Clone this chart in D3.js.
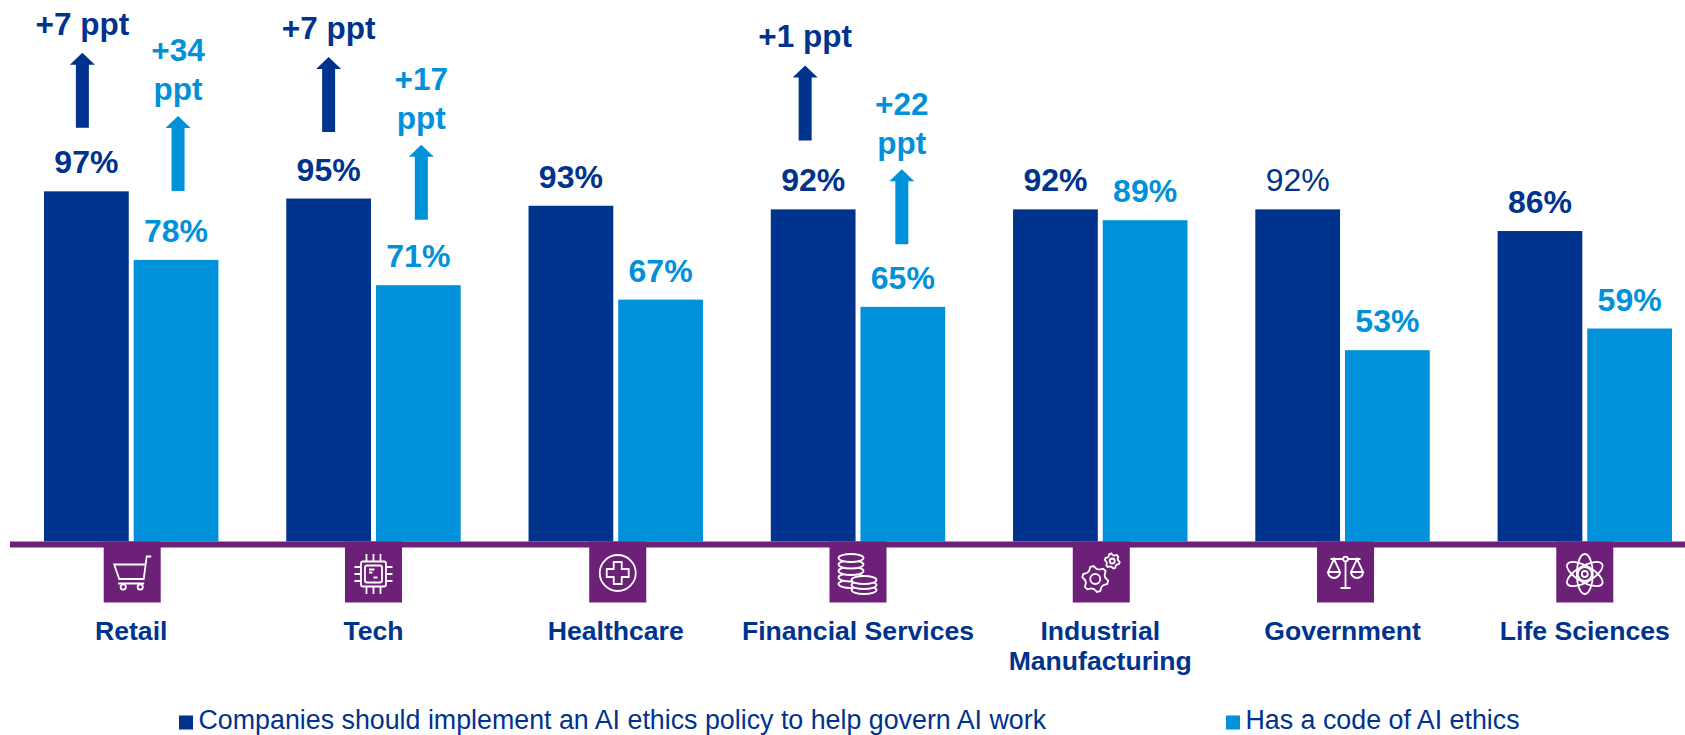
<!DOCTYPE html>
<html>
<head>
<meta charset="utf-8">
<style>
  html, body { margin: 0; background: #fff; overflow: hidden; }
  text { font-family: "Liberation Sans", Arial, sans-serif; }
</style>
</head>
<body>
<svg id="chart" width="1685" height="735"></svg>
<script src="https://cdnjs.cloudflare.com/ajax/libs/d3/7.8.5/d3.min.js"></script>
<script>
var categories = ["Retail", "Tech", "Healthcare", "Financial Services", "Industrial Manufacturing", "Government", "Life Sciences"];
var shouldImplement = [97, 95, 93, 92, 92, 92, 86];
var hasCode = [78, 71, 67, 65, 89, 53, 59];
var shouldDelta = ["+7 ppt", "+7 ppt", null, "+1 ppt", null, null, null];
var codeDelta = ["+34 ppt", "+17 ppt", null, "+22 ppt", null, null, null];
var seriesNames = ["Companies should implement an AI ethics policy to help govern AI work", "Has a code of AI ethics"];
var icons = ["cart", "chip", "health", "coins", "gears", "scales", "atom"];

var darkBlue = "#00338D", lightBlue = "#0091DA", purple = "#6D2077";
var baseline = 541.5;

var svg = d3.select("#chart");

var x = d3.scaleBand().domain(categories).range([44, 1672]).paddingInner(0.28);
var sub = d3.scaleBand().domain([0, 1]).range([0, x.bandwidth()]).paddingInner(0.055);
var y = d3.scaleLinear().domain([0, 100]).range([baseline, baseline - 361]);

// the arrows and squares were placed by hand in the original, so they sit a bit unevenly
var series = [
  { values: shouldImplement, deltas: shouldDelta, color: darkBlue, arrowDx: [-4, 0, 0, -8], arrowGap: [63.5, 66.5, 0, 69], labelGap: 18 },
  { values: hasCode, deltas: codeDelta, color: lightBlue, arrowDx: [2, 3, 0, -1], arrowGap: [69, 65.5, 0, 62.5], labelGap: 15.5 }
];
var iconDx = [1, 0, 2, 0, 1, 3, 0];

series.forEach(function(s, si) {
  var g = svg.append("g");

  g.selectAll("rect").data(s.values).enter().append("rect")
    .attr("x", function(d, i) { return x(categories[i]) + sub(si); })
    .attr("y", function(d) { return y(d); })
    .attr("width", sub.bandwidth())
    .attr("height", function(d) { return baseline - y(d); })
    .attr("fill", s.color);

  g.selectAll("text.value").data(s.values).enter().append("text")
    .attr("class", "value")
    .attr("x", function(d, i) { return x(categories[i]) + sub(si) + sub.bandwidth() / 2; })
    .attr("y", function(d) { return y(d) - 18; })
    .attr("text-anchor", "middle")
    .attr("font-size", 32)
    // the Government 92% is not bold in the original
    .attr("font-weight", function(d, i) { return si == 0 && categories[i] == "Government" ? "normal" : "bold"; })
    .attr("fill", s.color)
    .text(function(d) { return d + "%"; });

  // arrows with the change since last year
  s.deltas.forEach(function(label, i) {
    if (!label) return;
    var cx = x(categories[i]) + sub(si) + sub.bandwidth() / 2 + s.arrowDx[i];
    var bottom = y(s.values[i]) - s.arrowGap[i];
    var tip = bottom - 75;
    var arrow = g.append("g").attr("transform", "translate(" + cx + ",0)");
    arrow.append("path")
      .attr("d", "M-6.5," + bottom + "V" + (tip + 12) + "H-12.5L0," + tip + "L12.5," + (tip + 12) + "H6.5V" + bottom + "Z")
      .attr("fill", s.color);

    var lines = si == 0 ? [label] : label.split(" ");
    lines.forEach(function(t, li) {
      arrow.append("text")
        .attr("y", tip - s.labelGap - (lines.length - 1 - li) * 39)
        .attr("text-anchor", "middle")
        .attr("font-size", 31.5)
        .attr("font-weight", "bold")
        .attr("fill", s.color)
        .text(t);
    });
  });
});

// axis: thick purple rule, icon squares hang off it
svg.append("rect")
  .attr("x", 10).attr("y", baseline)
  .attr("width", 1675).attr("height", 6)
  .attr("fill", purple);

var axis = svg.append("g")
  .attr("transform", "translate(0," + baseline + ")")
  .call(d3.axisBottom(x).tickSize(0).tickFormat(""));
axis.select(".domain").remove();

axis.selectAll(".tick text").each(function(d) {
  var words = d == "Industrial Manufacturing" ? d.split(" ") : [d];
  var t = d3.select(this)
    .attr("y", 98)
    .attr("dy", null)
    .attr("font-size", 26.6)
    .attr("font-weight", "bold")
    .attr("font-family", null)
    .attr("fill", darkBlue);
  words.forEach(function(w, i) {
    t.append("tspan").attr("x", 0).attr("y", 98 + i * 30).text(w);
  });
});

var iconDraw = {
  cart: function(g) {
    g.append("path").attr("d", "M19,-17.5H14.5L11.5,5H-13L-18,-9.5H13M-14,9.5H12");
    g.append("circle").attr("cx", -9).attr("cy", 13).attr("r", 2.6);
    g.append("circle").attr("cx", 8).attr("cy", 13).attr("r", 2.6);
  },
  chip: function(g) {
    g.append("rect").attr("x", -12.5).attr("y", -12.5).attr("width", 25).attr("height", 25).attr("rx", 2);
    g.append("rect").attr("x", -8.5).attr("y", -8.5).attr("width", 17).attr("height", 17).attr("rx", 2);
    [-7, 0, 7].forEach(function(p) {
      g.append("path").attr("d", "M" + p + ",-12.5V-20M" + p + ",12.5V20M-12.5," + p + "H-19M12.5," + p + "H19");
    });
    g.append("path").attr("d", "M-4.5,-4.5H1M-4.5,-1.5H-1M0,3.5H4");
  },
  health: function(g) {
    g.append("circle").attr("cy", -1).attr("r", 18);
    g.append("path").attr("d", "M-4,-12H4V-5H11V3H4V10H-4V3H-11V-5H-4Z");
  },
  coins: function(g) {
    var stack = function(cx, top, rows, gap) {
      for (var i = rows; i >= 0; i--) {
        g.append("ellipse").attr("cx", cx).attr("cy", top + i * gap).attr("rx", 12.5).attr("ry", 4).attr("fill", purple);
      }
    };
    stack(-7, -16, 4, 6.5);
    stack(6, 6, 2, 5);
  },
  gears: function(g) {
    var gear = function(cx, cy, r, hole) {
      var pts = [];
      for (var a = 0; a < 24; a++) {
        var rad = a % 4 < 2 ? r : r * 0.78;
        var ang = (a + 0.5) / 24 * 2 * Math.PI;
        pts.push([cx + rad * Math.cos(ang), cy + rad * Math.sin(ang)]);
      }
      g.append("path").attr("d", d3.line().curve(d3.curveLinearClosed)(pts));
      g.append("circle").attr("cx", cx).attr("cy", cy).attr("r", hole);
    };
    gear(-6, 5, 13, 5);
    gear(11, -13, 7.5, 2.5);
  },
  scales: function(g) {
    g.append("path").attr("d", "M0,-13V14M-5,14H5M-15,-15H15");
    g.append("circle").attr("cy", -15).attr("r", 2.4).attr("fill", purple);
    [-11.5, 11.5].forEach(function(c) {
      g.append("path").attr("d", "M" + c + ",-15L" + (c - 6) + ",-2H" + (c + 6) + "ZM" + (c - 6) + ",-2A6,6 0 0 0 " + (c + 6) + ",-2");
    });
  },
  atom: function(g) {
    [30, 90, 150].forEach(function(a) {
      g.append("ellipse").attr("rx", 20).attr("ry", 8).attr("transform", "rotate(" + a + ")");
    });
    g.append("circle").attr("r", 7);
    g.append("circle").attr("r", 3);
  }
};

var iconG = svg.selectAll("g.icon").data(categories).enter().append("g")
  .attr("class", "icon")
  .attr("transform", function(d, i) { return "translate(" + (x(d) + x.bandwidth() / 2 + iconDx[i]) + "," + (baseline + 32.5) + ")"; });

iconG.append("rect")
  .attr("x", -28.5).attr("y", -32.5)
  .attr("width", 57).attr("height", 61)
  .attr("fill", purple);

iconG.each(function(d, i) {
  var g = d3.select(this).append("g")
    .attr("fill", "none")
    .attr("stroke", "#fff")
    .attr("stroke-width", 1.8);
  iconDraw[icons[i]](g);
});

// legend
var legendX = [179, 1226];
seriesNames.forEach(function(name, i) {
  svg.append("rect")
    .attr("x", legendX[i]).attr("y", 715.5)
    .attr("width", 14).attr("height", 14)
    .attr("fill", series[i].color);
  svg.append("text")
    .attr("x", legendX[i] + 19.5).attr("y", 729)
    .attr("font-size", 26.8)
    .attr("fill", darkBlue)
    .text(name);
});
</script>
</body>
</html>
